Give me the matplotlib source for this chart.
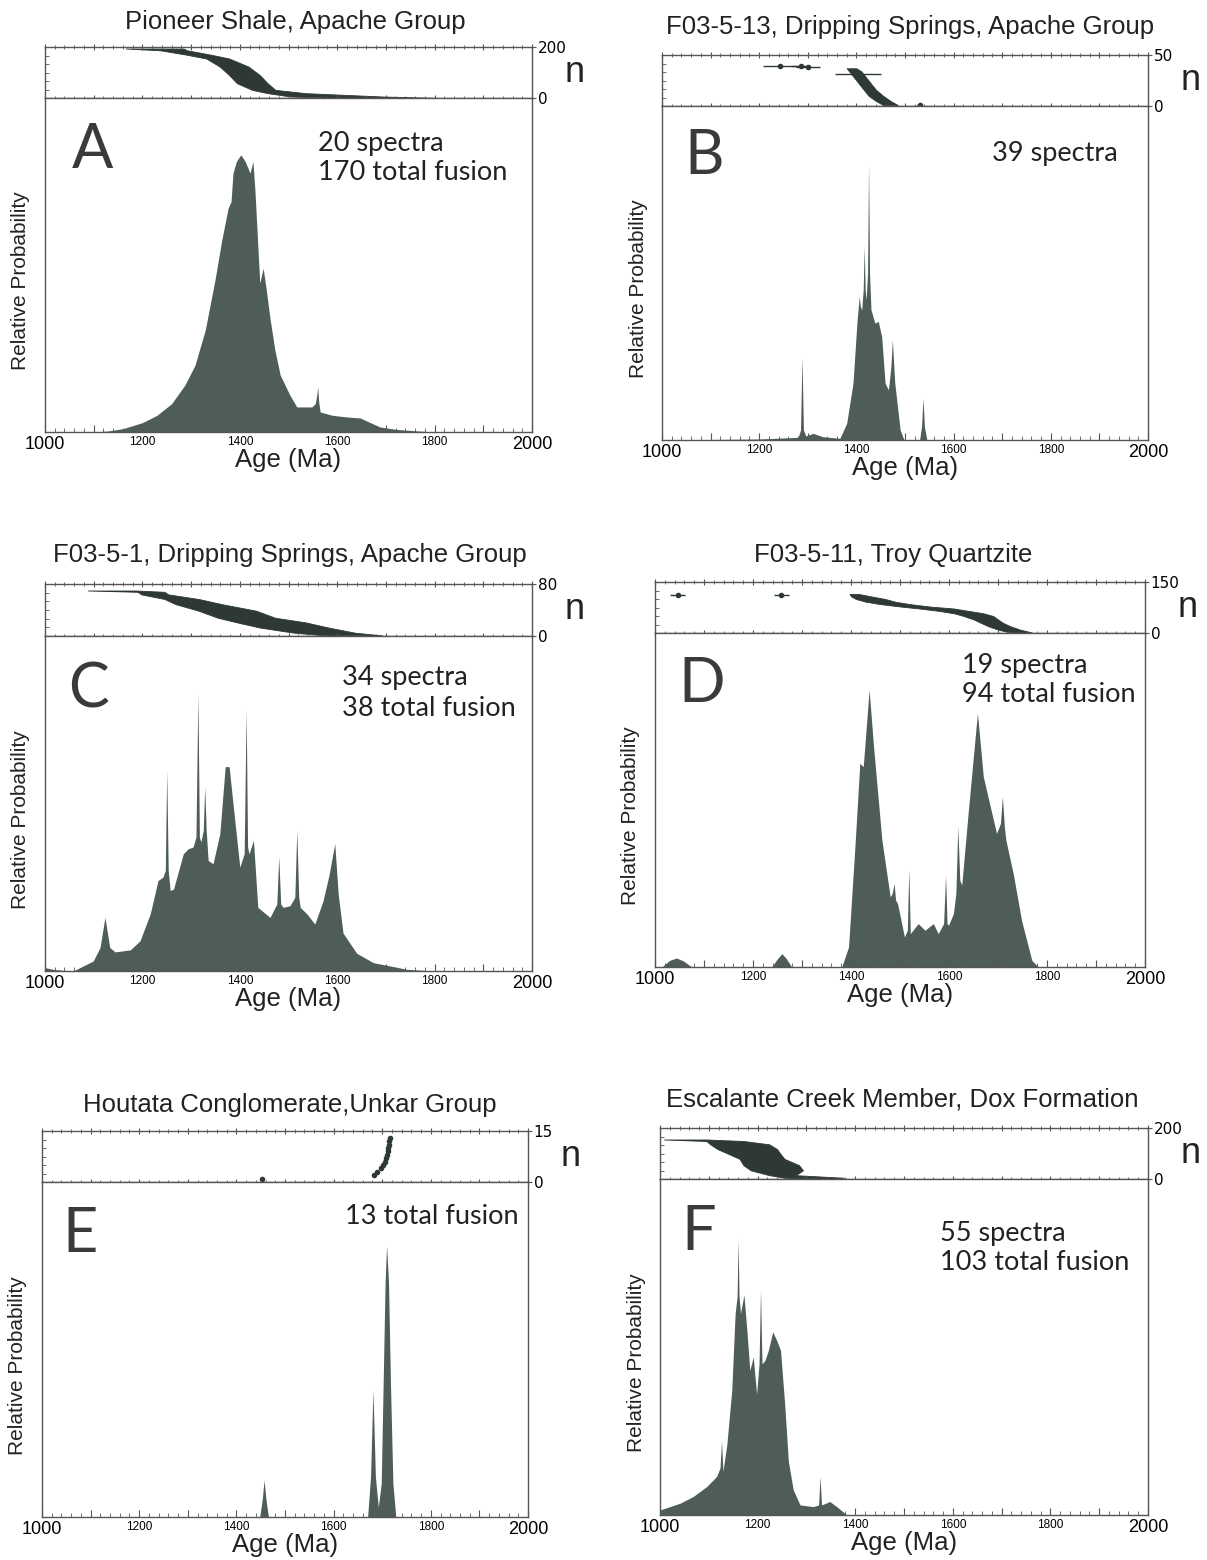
import numpy as np
import matplotlib.pyplot as plt
from matplotlib.ticker import MultipleLocator

W, H = 1207, 1560
fig = plt.figure(figsize=(W / 100, H / 100), dpi=100)

fill_c = '#4e5d58'
dark_c = '#2e3835'
line_c = '#555555'

# ---- A: Pioneer Shale
a_age = [1000, 1100, 1130, 1160, 1200, 1230, 1260, 1287, 1308, 1329, 1349, 1363, 1376, 1382,
         1386, 1393, 1402, 1411, 1421, 1427, 1431, 1441, 1448, 1454, 1462, 1472, 1483, 1503, 1517,
         1548, 1555, 1558, 1560, 1562, 1565, 1590, 1620, 1647, 1665, 1688, 1720, 1756, 1800, 2000]
a_prob = [0, 0, 0.003, 0.01, 0.028, 0.05, 0.085, 0.14, 0.2, 0.305, 0.455, 0.575, 0.67, 0.69,
          0.775, 0.81, 0.83, 0.81, 0.775, 0.81, 0.725, 0.446, 0.49, 0.43, 0.34, 0.245, 0.17, 0.11, 0.075,
          0.075, 0.085, 0.11, 0.135, 0.09, 0.06, 0.05, 0.045, 0.042, 0.03, 0.015, 0.008, 0.004, 0, 0]
a_band_n = [194, 187, 170, 155, 123, 90, 58, 32, 19, 6, 2, 0.5]
a_band_lo = [1166, 1237, 1290, 1331, 1359, 1378, 1394, 1425, 1457, 1504, 1575, 1620]
a_band_hi = [1284, 1292, 1340, 1378, 1418, 1441, 1457, 1473, 1535, 1692, 1770, 1800]

# ---- B: F03-5-13
b_age = [1000, 1200, 1250, 1280, 1285, 1288, 1291, 1296, 1311, 1330, 1366, 1380, 1393, 1401, 1404,
         1406, 1408, 1411, 1414, 1416, 1418, 1420, 1423, 1425, 1427, 1430, 1438, 1445, 1452, 1459,
         1466, 1471, 1474, 1477, 1479, 1490, 1498, 1530, 1534, 1537, 1540, 1545, 2000]
b_prob = [0, 0.003, 0.006, 0.008, 0.03, 0.25, 0.03, 0.012, 0.02, 0.01, 0.005, 0.05, 0.17, 0.35, 0.40,
          0.43, 0.40, 0.39, 0.45, 0.58, 0.45, 0.42, 0.5, 0.83, 0.5, 0.39, 0.35, 0.355, 0.31, 0.17,
          0.15, 0.22, 0.30, 0.22, 0.17, 0.03, 0.0, 0.0, 0.04, 0.125, 0.04, 0, 0]
b_band_n = [37, 34, 28, 22, 16, 10, 5, 1]
b_band_lo = [1380, 1385, 1395, 1405, 1415, 1425, 1440, 1455]
b_band_hi = [1400, 1410, 1420, 1430, 1440, 1455, 1470, 1485]
b_pt_age = [1242, 1285, 1300, 1403, 1530]
b_pt_n = [39, 39, 38, 31, 1]
b_pt_err = [35, 20, 25, 48, 5]

# ---- C: F03-5-1
c_age = [1000, 1020, 1058, 1099, 1113, 1123, 1133, 1144, 1175, 1195, 1216, 1232, 1242, 1247, 1250,
         1253, 1257, 1264, 1284, 1294, 1304, 1310, 1314, 1317, 1320, 1325, 1328, 1331, 1335, 1345,
         1359, 1370, 1378, 1386, 1400, 1409, 1413, 1416, 1419, 1428, 1437, 1462, 1476, 1480, 1484,
         1489, 1503, 1513, 1517, 1521, 1524, 1538, 1554, 1571, 1583, 1595, 1602, 1612, 1640, 1674,
         1743, 1800, 2000]
c_prob = [0.01, 0.004, 0, 0.03, 0.07, 0.16, 0.07, 0.057, 0.063, 0.09, 0.17, 0.27, 0.28, 0.3, 0.60,
          0.3, 0.24, 0.245, 0.35, 0.365, 0.37, 0.4, 0.83, 0.4, 0.385, 0.42, 0.55, 0.42, 0.33, 0.32,
          0.41, 0.61, 0.61, 0.50, 0.31, 0.35, 0.78, 0.37, 0.35, 0.39, 0.19, 0.16, 0.2, 0.34, 0.2,
          0.19, 0.195, 0.22, 0.42, 0.22, 0.19, 0.17, 0.14, 0.21, 0.285, 0.38, 0.23, 0.113, 0.053, 0.025,
          0.005, 0, 0]
c_band_n = [70, 68, 64, 57, 49, 39, 28, 21, 13, 5, 1]
c_band_lo = [1088, 1190, 1198, 1245, 1268, 1315, 1355, 1394, 1441, 1512, 1575]
c_band_hi = [1186, 1245, 1253, 1315, 1363, 1433, 1473, 1535, 1582, 1637, 1692]

# ---- D: F03-5-11 Troy Quartzite
d_age = [1000, 1014, 1030, 1044, 1058, 1075, 1238, 1250, 1259, 1268, 1279, 1381, 1395, 1408, 1418,
         1425, 1437, 1446, 1463, 1480, 1484, 1488, 1491, 1495, 1509, 1515, 1518, 1521, 1537, 1551,
         1568, 1578, 1589, 1593, 1596, 1599, 1609, 1614, 1618, 1622, 1626, 1639, 1658, 1670, 1697,
         1705, 1709, 1713, 1716, 1731, 1748, 1769, 1782, 2000]
d_prob = [0, 0, 0.02, 0.027, 0.018, 0, 0, 0.025, 0.04, 0.025, 0, 0, 0.06, 0.36, 0.61,
          0.60, 0.83, 0.66, 0.38, 0.21, 0.22, 0.25, 0.2, 0.19, 0.09, 0.11, 0.295, 0.1, 0.13, 0.11,
          0.13, 0.10, 0.13, 0.275, 0.13, 0.125, 0.16, 0.22, 0.42, 0.26, 0.245, 0.46, 0.76, 0.57, 0.40,
          0.43, 0.51, 0.42, 0.38, 0.28, 0.14, 0.02, 0, 0]
d_band_n = [115, 108, 100, 92, 85, 78, 72, 65, 58, 50, 40, 30, 20, 10, 3, 0.5]
d_band_lo = [1397, 1400, 1410, 1430, 1460, 1500, 1540, 1580, 1610, 1630, 1650, 1665, 1680, 1700, 1720, 1740]
d_band_hi = [1415, 1440, 1470, 1490, 1520, 1560, 1610, 1640, 1670, 1690, 1700, 1710, 1725, 1745, 1765, 1770]
d_pt_age = [1046, 1258]
d_pt_n = [113, 113]
d_pt_err = [15, 15]

# ---- E: Houtata Conglomerate
e_age = [1000, 1448, 1453, 1457, 1461, 1466, 1670, 1676, 1681, 1686, 1692, 1698, 1702, 1706, 1709,
         1713, 1717, 1722, 1728, 2000]
e_prob = [0, 0, 0.05, 0.11, 0.05, 0, 0, 0.12, 0.38, 0.12, 0.03, 0.1, 0.4, 0.7, 0.81,
          0.7, 0.4, 0.1, 0, 0]
e_pt_age = [1453, 1683, 1690, 1698, 1702, 1705, 1707, 1709, 1711, 1712, 1713, 1715, 1716]
e_pt_n = [1, 2, 3, 4, 5, 6, 7, 8, 9, 10, 11, 12, 13]

# ---- F: Escalante Creek Member
f_age = [1000, 1041, 1068, 1096, 1116, 1123, 1126, 1129, 1137, 1147, 1154, 1158, 1160, 1162, 1165,
         1172, 1178, 1184, 1191, 1198, 1203, 1206, 1209, 1215, 1222, 1231, 1239, 1247, 1256, 1263,
         1273, 1287, 1314, 1325, 1328, 1331, 1348, 1362, 1383, 2000]
f_prob = [0.015, 0.035, 0.055, 0.085, 0.115, 0.14, 0.22, 0.13, 0.21, 0.37, 0.60, 0.65, 0.82, 0.65, 0.60,
          0.655, 0.55, 0.43, 0.47, 0.36, 0.45, 0.67, 0.45, 0.46, 0.49, 0.545, 0.52, 0.49, 0.32, 0.16,
          0.075, 0.03, 0.025, 0.03, 0.115, 0.03, 0.04, 0.025, 0, 0]
f_band_n = [155, 149, 136, 117, 98, 79, 54, 34, 15, 5, 1]
f_band_lo = [1008, 1095, 1103, 1118, 1141, 1163, 1171, 1186, 1224, 1255, 1280]
f_band_hi = [1095, 1171, 1224, 1240, 1247, 1255, 1285, 1293, 1278, 1376, 1376]

tick_pos = list(range(1000, 2001, 100))
tick_lab = ['1000', '', '1200', '', '1400', '', '1600', '', '1800', '', '2000']


def box(l, r, t, b):
    return [l / W, 1 - b / H, (r - l) / W, (b - t) / H]


def ftext(x, y, s, **kw):
    fig.text(x / W, 1 - y / H, s, **kw)


def panel(geom, title, letter, note, nmax, age, prob, band=None, pts=None, txt=None):
    l, r, t, m, b = geom
    ar = fig.add_axes(box(l, r, t, m))
    am = fig.add_axes(box(l, r, m, b))

    # ranked age panel
    if band is not None:
        ar.fill_betweenx(band[0], band[1], band[2], color=dark_c, lw=0.6, ec=dark_c)
    if pts is not None:
        ar.errorbar(pts[0], pts[1], xerr=pts[2], fmt='o', ms=3, color=dark_c,
                    ecolor=dark_c, elinewidth=1, capsize=0)
    ar.set_xlim(1000, 2000)
    ar.set_ylim(0, nmax)
    ar.xaxis.set_major_locator(MultipleLocator(100))
    ar.xaxis.set_minor_locator(MultipleLocator(20))
    ar.tick_params(axis='x', which='both', top=True, bottom=True, direction='inout',
                   labelbottom=False, color=line_c)
    ar.tick_params(axis='x', which='major', length=5)
    ar.tick_params(axis='x', which='minor', length=3)
    ar.set_yticks([0, nmax])
    ar.yaxis.set_minor_locator(MultipleLocator(nmax / 6))
    ar.tick_params(axis='y', which='major', left=False, right=True, labelleft=False,
                   labelright=True, direction='out', length=3, pad=1, labelsize=11, color=line_c)
    ar.tick_params(axis='y', which='minor', left=True, right=False, direction='in', length=3,
                   color=line_c)
    for s in ar.spines.values():
        s.set_color(line_c)
        s.set_linewidth(1.0)

    # probability density panel
    am.fill_between(age, prob, color=fill_c, lw=0)
    am.set_xlim(1000, 2000)
    am.set_ylim(0, 1)
    am.set_yticks([])
    am.set_xticks(tick_pos, tick_lab)
    am.xaxis.set_minor_locator(MultipleLocator(20))
    am.tick_params(axis='x', which='both', direction='in', color=line_c, pad=3)
    am.tick_params(axis='x', which='major', length=5)
    am.tick_params(axis='x', which='minor', length=3)
    labs = am.get_xticklabels()
    for i, lb in enumerate(labs):
        lb.set_fontsize(13 if i in (0, len(labs) - 1) else 8.5)
        lb.set_family('Liberation Sans')
    for s in am.spines.values():
        s.set_color(line_c)
        s.set_linewidth(1.0)

    cx = (l + r) / 2
    ftext(txt['title'][0], txt['title'][1], title, fontsize=18.5, ha='center', va='center',
          family='Liberation Sans', color='#222222')
    ftext(r + 43, (t + m) / 2, 'n', fontsize=26, ha='center', va='center',
          family='Liberation Sans', color='#222222')
    ftext(txt['letter'][0], txt['letter'][1], letter, fontsize=44, ha='left', va='center',
          family='Lato', fontweight='normal', color='#3a3a3a')
    ftext(txt['note'][0], txt['note'][1], note, fontsize=19.5, ha='left', va='center',
          family='Lato', linespacing=1.25, color='#222222')
    ftext(cx, b + 28, 'Age (Ma)', fontsize=18.5, ha='center', va='center',
          family='Liberation Sans', color='#222222')
    ftext(l - 24, (m + b) / 2 + 16, 'Relative Probability', fontsize=15, ha='center', va='center',
          rotation=90, family='Liberation Sans', color='#222222')


panel((45, 532, 47, 98, 432), 'Pioneer Shale, Apache Group', 'A', '20 spectra\n170 total fusion',
      200, a_age, a_prob, band=(a_band_n, a_band_lo, a_band_hi),
      txt={'title': (295, 22), 'letter': (72, 150), 'note': (318, 158)})
panel((662, 1148, 55, 106, 440), 'F03-5-13, Dripping Springs, Apache Group', 'B', '39 spectra',
      50, b_age, b_prob, band=(b_band_n, b_band_lo, b_band_hi), pts=(b_pt_age, b_pt_n, b_pt_err),
      txt={'title': (910, 27), 'letter': (684, 157), 'note': (992, 154)})
panel((45, 532, 584, 636, 971), 'F03-5-1, Dripping Springs, Apache Group', 'C', '34 spectra\n38 total fusion',
      80, c_age, c_prob, band=(c_band_n, c_band_lo, c_band_hi),
      txt={'title': (290, 555), 'letter': (68, 690), 'note': (342, 693)})
panel((655, 1145, 582, 633, 967), 'F03-5-11, Troy Quartzite', 'D', '19 spectra\n94 total fusion',
      150, d_age, d_prob, band=(d_band_n, d_band_lo, d_band_hi), pts=(d_pt_age, d_pt_n, d_pt_err),
      txt={'title': (893, 555), 'letter': (678, 685), 'note': (962, 680)})
panel((42, 528, 1131, 1182, 1517), 'Houtata Conglomerate,Unkar Group', 'E', '13 total fusion',
      15, e_age, e_prob, pts=(e_pt_age, e_pt_n, [4] * len(e_pt_n)),
      txt={'title': (290, 1105), 'letter': (62, 1235), 'note': (345, 1217)})
panel((660, 1148, 1128, 1179, 1515), 'Escalante Creek Member, Dox Formation', 'F', '55 spectra\n103 total fusion',
      200, f_age, f_prob, band=(f_band_n, f_band_lo, f_band_hi),
      txt={'title': (902, 1099), 'letter': (681, 1233), 'note': (940, 1248)})

fig.savefig('out.png', dpi=100, facecolor='white')
